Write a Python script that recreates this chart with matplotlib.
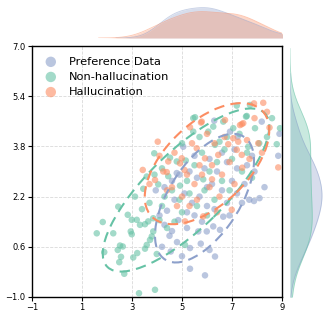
import numpy as np
import matplotlib
matplotlib.use("Agg")
import matplotlib.pyplot as plt
from matplotlib.patches import Ellipse
import matplotlib.transforms as transforms

labels = ["Preference Data", "Non-hallucination", "Hallucination"]
colors = ["#8da0cb", "#66c2a5", "#fc8d62"]

pref_x = [5.32, 5.92, 6.32, 5.32, 5.65, 5.99, 6.25, 6.52, 6.65, 4.8, 4.5, 4.3, 4.2, 4.55, 5.0, 4.1, 4.4, 4.85,
          5.2, 5.5, 5.8, 6.0, 6.3, 6.8, 7.2, 7.69, 7.88, 8.1, 8.3, 7.5, 7.0, 6.6, 6.2, 5.7, 5.4, 5.1, 4.7, 4.3,
          3.95, 4.6, 4.9, 5.3, 5.6, 5.9, 6.4, 6.8, 7.2, 7.6, 7.9, 7.1, 6.6, 6.1, 5.5, 5.05, 6.92, 7.23, 6.29,
          8.19, 8.85, 8.9, 7.8, 4.79, 6.0, 5.2, 6.9, 7.4, 4.6, 5.75, 6.1]
pref_y = [-0.10, -0.31, 0.29, 0.56, 1.09, 1.09, 1.25, 1.14, 1.56, 0.75, 0.95, 1.3, 0.6, 0.45, 0.3, 1.6, 1.75, 1.45,
          1.2, 1.6, 1.4, 1.9, 1.8, 2.0, 2.3, 2.10, 2.06, 2.15, 2.5, 2.6, 2.7, 2.4, 2.6, 2.2, 2.0, 2.3, 2.1, 2.5,
          2.4, 2.7, 2.9, 3.0, 2.8, 3.1, 3.0, 3.3, 3.1, 3.2, 3.0, 3.7, 3.6, 3.4, 3.5, 3.79, 4.27, 4.11, 4.62,
          4.59, 3.5, 4.2, 3.5, 2.95, 2.5, 1.7, 1.6, 2.0, 1.1, 0.7, 0.5]

nonh_x = [3.12, 2.45, 2.83, 1.83, 1.59, 2.25, 2.99, 3.19, 3.32, 3.52, 3.65, 2.95, 2.99, 2.52, 2.63, 2.43, 1.89,
          2.56, 2.49, 3.05, 3.21, 3.52, 3.59, 3.72, 3.79, 3.85, 3.99, 2.69, 3.28, 3.92, 3.85,
          5.45, 7.19, 7.72, 7.56, 6.65, 6.25, 7.05, 7.92, 8.09, 8.79, 8.92, 5.52, 6.05, 5.45, 7.59, 7.65, 6.32,
          3.89, 4.52, 3.59, 4.05, 4.92, 4.79, 5.12,
          4.3, 4.6, 4.9, 5.2, 5.5, 5.8, 6.1, 6.4, 6.7, 7.0, 7.4, 7.8, 6.9, 6.3, 5.9, 5.6, 5.3, 5.0, 4.7, 4.4,
          4.2, 3.7, 3.4, 3.9, 4.2, 5.0, 5.7, 6.8, 7.3, 8.4, 6.0, 6.6, 7.6, 8.6, 4.1, 3.45, 4.45, 5.15, 5.85, 6.5]
nonh_y = [2.20, 1.88, 1.62, 1.39, 1.03, 1.03, 1.46, 1.46, 1.30, 1.32, 1.41, 1.09, 1.00, 0.64, 0.61, 0.50, 0.43,
          0.28, 0.11, 0.26, 0.40, 0.54, 0.66, 0.82, 0.93, 1.09, 0.37, -0.26, -0.88, -0.77, 1.51,
          4.70, 5.10, 5.12, 4.75, 4.59, 4.43, 4.38, 4.38, 3.90, 3.87, 4.38, 4.73, 4.27, 4.27, 4.77, 3.79, 3.85,
          3.58, 3.44, 2.84, 2.59, 2.55, 3.32, 0.66,
          2.2, 2.4, 2.1, 2.7, 3.2, 3.6, 3.0, 3.3, 3.7, 3.4, 3.0, 2.8, 2.4, 2.1, 2.4, 1.9, 2.3, 1.7, 1.4, 1.2,
          1.9, 2.0, 1.8, 2.9, 3.1, 3.9, 4.1, 4.1, 4.2, 4.1, 1.6, 2.7, 3.6, 4.7, 1.45, 2.45, 2.85, 3.35, 2.75, 3.95]

hall_x = [7.88, 8.25, 5.76, 6.72, 7.32, 7.45, 5.32, 7.05, 8.05, 8.85, 4.03, 3.43, 4.45, 4.39, 4.99, 5.59, 5.92,
          6.45, 7.19, 7.39, 7.41, 3.92, 4.25, 4.92, 6.99, 5.85, 5.12, 5.79, 7.39, 6.85, 7.25,
          5.2, 5.5, 5.8, 6.2, 6.6, 6.9, 7.6, 6.3, 6.0, 5.4, 4.7, 4.6, 5.0, 5.6, 6.1, 6.5, 7.1, 7.7, 8.2, 8.5,
          7.9, 4.1, 4.4, 5.3, 6.4, 4.8, 5.7, 6.7, 8.4, 3.7, 6.2, 5.1]
hall_y = [5.17, 5.19, 4.56, 4.64, 4.48, 4.54, 4.41, 4.06, 3.90, 3.13, 3.95, 3.05, 3.32, 2.98, 3.42, 3.74, 3.42,
          3.53, 3.69, 3.53, 3.12, 2.73, 3.00, 3.26, 1.78, 1.57, 1.41, 4.59, 4.51, 3.87, 3.95,
          2.9, 2.6, 2.9, 3.2, 2.9, 3.3, 4.0, 3.9, 4.2, 3.9, 3.6, 2.5, 2.2, 2.1, 2.5, 2.2, 2.6, 3.4, 3.6, 4.4,
          4.7, 3.5, 2.4, 1.9, 1.7, 1.9, 3.2, 4.1, 4.9, 2.6, 2.75, 3.05]

# ellipse parameters: centre x, centre y, half-extent x, half-extent y, correlation
ell_cx = [5.90, 5.16, 6.00]
ell_cy = [2.15, 2.41, 3.25]
ell_hx = [1.98, 3.33, 2.49]
ell_hy = [2.05, 2.60, 1.93]
ell_rho = [0.58, 0.78, 0.55]

xticks = [-1, 1, 3, 5, 7, 9]
yticks = [-1.0, 0.6, 2.2, 3.8, 5.4, 7.0]

groups = [(pref_x, pref_y), (nonh_x, nonh_y), (hall_x, hall_y)]

W, H = 329, 316
fig = plt.figure(figsize=(W / 100, H / 100), dpi=100)
ax = fig.add_axes([32 / W, (H - 297) / H, 250 / W, 251 / H])
axt = fig.add_axes([32 / W, (H - 38) / H, 250 / W, 38 / H], sharex=ax)
axr = fig.add_axes([290 / W, (H - 297) / H, 39 / W, 251 / H], sharey=ax)

for (gx, gy), lab, c in zip(groups, labels, colors):
    ax.scatter(gx, gy, s=22, color=c, alpha=0.6, edgecolors="none", label=lab, zorder=3)

for i, c in enumerate(colors):
    r = ell_rho[i]
    e = Ellipse((0, 0), width=2 * np.sqrt(1 + r), height=2 * np.sqrt(1 - r),
                facecolor="none", edgecolor=c, linestyle=(0, (5, 3)), linewidth=1.5, zorder=4)
    tr = transforms.Affine2D().rotate_deg(45).scale(ell_hx[i], ell_hy[i]).translate(ell_cx[i], ell_cy[i])
    e.set_transform(tr + ax.transData)
    ax.add_patch(e)

ax.set_xlim(-1, 9)
ax.set_ylim(-1, 7)
ax.set_xticks(xticks)
ax.set_yticks(yticks)
ax.set_yticklabels([f"{v:.1f}".replace("-", "\u2212") for v in yticks])
ax.set_xticklabels([str(v).replace("-", "\u2212") for v in xticks])
ax.tick_params(labelsize=6, length=3, width=0.8, pad=1.5)
ax.grid(True, linestyle="--", color="#d9d9d9", linewidth=0.6)
ax.set_axisbelow(True)
for s in ax.spines.values():
    s.set_color("black")
    s.set_linewidth(1.0)

leg = ax.legend(loc="upper left", frameon=False, fontsize=8.2, markerscale=1.6,
                handletextpad=0.9, labelspacing=0.45, borderaxespad=0.55, handlelength=1.4,
                borderpad=0.4)


def kde(vals, grid):
    v = np.asarray(vals, float)
    bw = v.std(ddof=1) * len(v) ** (-0.2)
    d = np.exp(-0.5 * ((grid[:, None] - v[None, :]) / bw) ** 2).sum(1)
    return d / (len(v) * bw * np.sqrt(2 * np.pi)), bw


# top marginal: Preference + Hallucination (x)
tmax = 0
for (gx, gy), c in [(groups[0], colors[0]), (groups[2], colors[2])]:
    v = np.asarray(gx)
    _, bw = kde(v, np.array([0.0]))
    g = np.linspace(v.min() - 3 * bw, v.max() + 3 * bw, 300)
    d, _ = kde(v, g)
    axt.fill_between(g, 0, d, color=c, alpha=0.35, linewidth=0)
    axt.plot(g, d, color=c, alpha=0.5, linewidth=0.6)
    tmax = max(tmax, d.max())
axt.set_ylim(0, tmax * 1.25)
axt.axis("off")

# right marginal: Preference + Non-hallucination (y)
rmax = 0
for (gx, gy), c in [(groups[0], colors[0]), (groups[1], colors[1])]:
    v = np.asarray(gy)
    _, bw = kde(v, np.array([0.0]))
    g = np.linspace(v.min() - 3 * bw, v.max() + 3 * bw, 300)
    d, _ = kde(v, g)
    axr.fill_betweenx(g, 0, d, color=c, alpha=0.35, linewidth=0)
    axr.plot(d, g, color=c, alpha=0.5, linewidth=0.6)
    rmax = max(rmax, d.max())
axr.set_xlim(0, rmax * 1.22)
axr.axis("off")

ax.set_xlim(-1, 9)
ax.set_ylim(-1, 7)

fig.savefig("out.png", dpi=100)
